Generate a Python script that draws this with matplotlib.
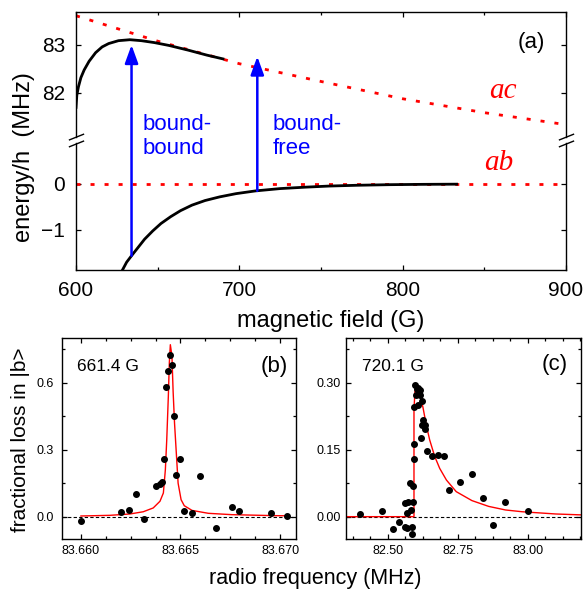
import matplotlib
matplotlib.use("Agg")
import matplotlib.pyplot as plt
from matplotlib.path import Path
from matplotlib.patches import ConnectionPatch
from matplotlib.ticker import MultipleLocator, FormatStrFormatter

plt.rcParams['font.family'] = ['Liberation Sans', 'DejaVu Sans']

# ---- panel (a): energies vs magnetic field ----
ac_field = [600, 650, 700, 750, 800, 850, 900]
ac_energy = [83.61, 83.08, 82.61, 82.24, 81.88, 81.59, 81.34]
ab_field = [600, 900]
ab_energy = [0, 0]
bb_field = [600, 600.5, 601.5, 603, 605, 608, 612, 616, 620, 626, 633, 640, 648, 657, 669, 680, 690]
bb_energy = [81.70, 81.95, 82.13, 82.32, 82.48, 82.66, 82.84, 82.96, 83.03, 83.09, 83.11, 83.09,
             83.05, 82.99, 82.89, 82.79, 82.71]
bf_field = [628, 631, 634, 638, 642, 647, 652, 658, 664, 671, 679, 688, 698, 710,
            725, 740, 755, 772, 792, 812, 833]
bf_energy = [-1.90, -1.70, -1.56, -1.38, -1.20, -1.02, -0.86, -0.71, -0.58, -0.46, -0.36, -0.28,
             -0.21, -0.15, -0.10, -0.07, -0.045, -0.028, -0.015, -0.008, -0.004]
arrow_field = [634, 711]
arrow_start = [-1.56, -0.15]
arrow_end = [83.0, 82.76]

# ---- panel (b): 661.4 G ----
b_freq = [83.6600, 83.66200, 83.66240, 83.66278, 83.66318, 83.66378, 83.66397, 83.66409,
          83.66419, 83.66427, 83.66437, 83.66449, 83.66457, 83.66467, 83.66477, 83.66497,
          83.66518, 83.66558, 83.66596, 83.66677, 83.66757, 83.66796, 83.66956, 83.67035]
b_loss = [-0.021, 0.019, 0.030, 0.103, -0.012, 0.139, 0.148, 0.155,
          0.258, 0.579, 0.654, 0.725, 0.679, 0.452, 0.185, 0.258,
          0.027, 0.016, 0.184, -0.052, 0.045, 0.025, 0.016, 0.004]
b_fit_freq = [83.66000, 83.66146, 83.66246, 83.66313, 83.66363, 83.66397, 83.66414, 83.66424,
              83.66431, 83.66439, 83.66444, 83.66449, 83.66457, 83.66463, 83.66470, 83.66480,
              83.66488, 83.66503, 83.66519, 83.66558, 83.66640, 83.66757, 83.66975, 83.67035]
b_fit_loss = [0.003, 0.006, 0.012, 0.022, 0.039, 0.069, 0.106, 0.21,
              0.345, 0.54, 0.69, 0.77, 0.72, 0.56, 0.42, 0.27,
              0.15, 0.076, 0.049, 0.028, 0.015, 0.009, 0.0045, 0.004]

# ---- panel (c): 720.1 G ----
c_freq = [82.401, 82.479, 82.518, 82.539, 82.561, 82.568, 82.587, 82.585, 82.562, 82.573,
          82.589, 82.569, 82.582, 82.580, 82.588, 82.592, 82.593, 82.593, 82.609, 82.596,
          82.602, 82.609, 82.616, 82.599, 82.616, 82.623, 82.626, 82.620, 82.634, 82.631,
          82.617, 82.639, 82.659, 82.679, 82.699, 82.718, 82.759, 82.799, 82.838, 82.877,
          82.918, 82.999]
c_loss = [0.005, 0.013, -0.028, -0.013, -0.023, -0.025, -0.024, -0.039, 0.031, 0.032,
          0.032, 0.008, 0.016, 0.076, 0.069, 0.129, 0.163, 0.246, 0.250, 0.295,
          0.286, 0.289, 0.284, 0.272, 0.272, 0.260, 0.217, 0.206, 0.206, 0.196,
          0.175, 0.148, 0.136, 0.138, 0.135, 0.059, 0.078, 0.096, 0.041, -0.018,
          0.032, 0.013]
c_fit_freq = [82.35, 82.593, 82.593, 82.5965, 82.6015, 82.613, 82.625, 82.637, 82.649, 82.667,
              82.685, 82.709, 82.744, 82.80, 82.86, 82.92, 82.98, 83.10, 83.19]
c_fit_loss = [0.0, 0.0, 0.24, 0.28, 0.290, 0.275, 0.245, 0.205, 0.172, 0.135,
              0.108, 0.082, 0.056, 0.036, 0.023, 0.015, 0.011, 0.006, 0.004]

W, H = 587, 589
fig = plt.figure(figsize=(W / 100, H / 100), dpi=100)


def px_axes(l, t, r, b):
    return fig.add_axes([l / W, 1 - b / H, (r - l) / W, (b - t) / H])


def fx(px):
    return px / W


def fy(py):
    return 1 - py / H


def style(ax, size, pad):
    for s in ax.spines.values():
        s.set_linewidth(1.0)
    ax.tick_params(which='both', direction='in', top=True, right=True,
                   labelsize=size, pad=pad, width=0.9)
    ax.tick_params(which='major', length=3.5)
    ax.tick_params(which='minor', length=2.5)


dot = dict(color='red', lw=2.0, linestyle=(0, (1.45, 3.6)), dash_capstyle='butt')

# ---- (a) broken axis ----
ax_up = px_axes(76, 12, 566, 137)
ax_lo = px_axes(76, 143, 566, 270)
ax_lo.patch.set_visible(False)
for ax in (ax_up, ax_lo):
    style(ax, 15, 8)
    ax.set_xlim(600, 900)
    ax.xaxis.set_major_locator(MultipleLocator(100))
    ax.xaxis.set_minor_locator(MultipleLocator(50))
    ax.yaxis.set_major_locator(MultipleLocator(1))
ax_up.set_ylim(81.083, 83.6875)
ax_lo.set_ylim(-1.87, 0.891)
ax_up.spines['bottom'].set_visible(False)
ax_lo.spines['top'].set_visible(False)
ax_up.tick_params(which='both', bottom=False, labelbottom=False)
ax_lo.tick_params(which='both', top=False)

ax_up.plot(ac_field, ac_energy, **dot)
ax_lo.plot(ab_field, ab_energy, **dot)
ax_up.plot(bb_field, bb_energy, color='black', lw=2.0)
ax_lo.plot(bf_field, bf_energy, color='black', lw=2.0)

for b, e0, e1 in zip(arrow_field, arrow_start, arrow_end):
    arr = ConnectionPatch(xyA=(b, e0), coordsA=ax_lo.transData,
                          xyB=(b, e1), coordsB=ax_up.transData,
                          arrowstyle='-|>,head_length=1.1,head_width=0.4',
                          mutation_scale=10, lw=1.8, color='blue',
                          shrinkA=0, shrinkB=0)
    fig.add_artist(arr)

ax_up.text(640.7, 81.56, 'bound-\nbound', color='blue', fontsize=16, va='top', ha='left')
ax_up.text(720.5, 81.56, 'bound-\nfree', color='blue', fontsize=16, va='top', ha='left')
ax_up.text(878.6, 83.06, '(a)', fontsize=16, ha='center', va='center')
ax_up.text(853, 81.90, 'ac', color='red', fontsize=21, style='italic',
           family='Liberation Serif', ha='left', va='baseline')
ax_lo.text(850, 0.30, 'ab', color='red', fontsize=21, style='italic',
           family='Liberation Serif', ha='left', va='baseline')

# break marks
brk = Path([(-1, 0.05), (1, 0.85), (-1, -0.85), (1, -0.05)],
           [Path.MOVETO, Path.LINETO, Path.MOVETO, Path.LINETO])
ax_up.plot([0, 1], [-0.024, -0.024], transform=ax_up.transAxes, marker=brk,
           markersize=11, linestyle='none', mec='black', mew=1.0, clip_on=False)

fig.text(fx(24), fy(157), 'energy/h  (MHz)', rotation=90, ha='center', va='center', fontsize=17)
fig.text(fx(331), fy(327), 'magnetic field (G)', ha='center', va='baseline', fontsize=17)

# ---- (b) ----
axb = px_axes(62, 338, 296, 539)
style(axb, 9, 4.5)
axb.tick_params(axis='y', pad=6)
axb.set_xlim(83.65905, 83.6708)
axb.set_ylim(-0.1, 0.8)
axb.xaxis.set_major_locator(MultipleLocator(0.005))
axb.xaxis.set_minor_locator(MultipleLocator(0.00125))
axb.xaxis.set_major_formatter(FormatStrFormatter('%.3f'))
axb.yaxis.set_major_locator(MultipleLocator(0.3))
axb.yaxis.set_minor_locator(MultipleLocator(0.15))
axb.yaxis.set_major_formatter(FormatStrFormatter('%.1f'))
axb.axhline(0, color='black', lw=0.8, linestyle=(0, (3, 2)))
axb.plot(b_fit_freq, b_fit_loss, color='red', lw=1.0)
axb.plot(b_freq, b_loss, 'o', color='black', markersize=4)
axb.text(0.065, 0.86, '661.4 G', transform=axb.transAxes, fontsize=12.5, va='center', ha='left')
axb.text(0.905, 0.86, '(b)', transform=axb.transAxes, fontsize=16, va='center', ha='center')

# ---- (c) ----
axc = px_axes(346, 338, 581, 539)
style(axc, 9, 4.5)
axc.tick_params(axis='y', pad=3.6)
axc.set_xlim(82.35, 83.19)
axc.set_ylim(-0.05, 0.40)
axc.xaxis.set_major_locator(MultipleLocator(0.25))
axc.xaxis.set_minor_locator(MultipleLocator(0.0625))
axc.xaxis.set_major_formatter(FormatStrFormatter('%.2f'))
axc.yaxis.set_major_locator(MultipleLocator(0.15))
axc.yaxis.set_minor_locator(MultipleLocator(0.075))
axc.yaxis.set_major_formatter(FormatStrFormatter('%.2f'))
axc.axhline(0, color='black', lw=0.8, linestyle=(0, (3, 2)))
axc.plot(c_fit_freq, c_fit_loss, color='red', lw=1.0)
axc.plot(c_freq, c_loss, 'o', color='black', markersize=4)
axc.text(0.07, 0.86, '720.1 G', transform=axc.transAxes, fontsize=12.5, va='center', ha='left')
axc.text(0.89, 0.87, '(c)', transform=axc.transAxes, fontsize=16, va='center', ha='center')

fig.text(fx(21), fy(440), 'fractional loss in |b>', rotation=90, ha='center', va='center', fontsize=15)
fig.text(fx(315), fy(584), 'radio frequency (MHz)', ha='center', va='baseline', fontsize=15.5)

fig.savefig('out.png', dpi=100)
